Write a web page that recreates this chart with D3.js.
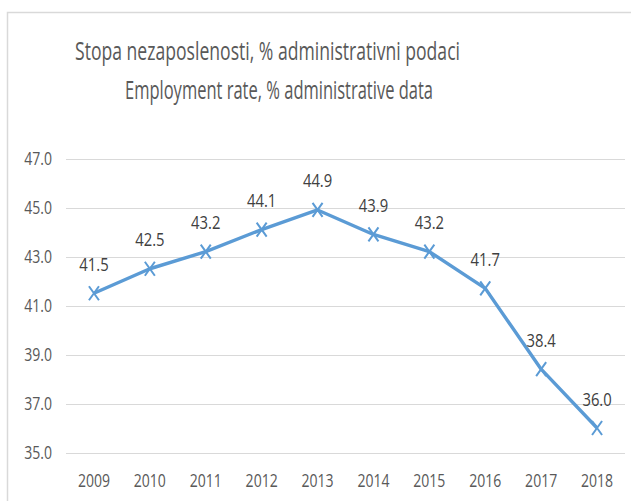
<!DOCTYPE html>
<html><head><meta charset="utf-8">
<script src="https://cdn.jsdelivr.net/npm/d3@7"></script>
<style>body{margin:0;background:#fff}svg{display:block}</style>
</head><body>
<script>
const years = ["2009","2010","2011","2012","2013","2014","2015","2016","2017","2018"];
const values = [41.5,42.5,43.2,44.1,44.9,43.9,43.2,41.7,38.4,36.0];
const yTicks = [35,37,39,41,43,45,47];
const titleLines = ["Stopa nezaposlenosti, % administrativni podaci","Employment rate, % administrative data"];

const W=631,H=501;
const font = "'Open Sans',sans-serif";
const svg = d3.select("body").append("svg").attr("width",W).attr("height",H);
svg.append("rect").attr("width",W).attr("height",H).attr("fill","#fff");
svg.append("path").attr("d","M7.5,"+H+"V12.5H"+W).attr("fill","none").attr("stroke","#d9d9d9").attr("stroke-width",1.5);

const x = d3.scaleBand().domain(years).range([66,625]);
const y = d3.scaleLinear().domain([35,47]).range([452.5,158.5]);
const SX = 0.78;

function label(g, px, py, t, anchor, size, fill){
  return g.append("text").attr("transform",`translate(${px},${py}) scale(${SX},1)`)
    .attr("text-anchor",anchor).attr("font-family",font).attr("font-size",size).attr("fill",fill).text(t);
}

const tl = [[385,60],[308,98.5]];
const tcx = [267.5,279];
titleLines.forEach((t,i)=>{
  svg.append("text").attr("x",tcx[i]).attr("y",tl[i][1]).attr("text-anchor","middle")
    .attr("font-family",font).attr("font-size",25).attr("fill","#595959")
    .attr("textLength",tl[i][0]).attr("lengthAdjust","spacingAndGlyphs").text(t);
});

svg.append("g").selectAll("line").data(yTicks).join("line")
  .attr("x1",66).attr("x2",625).attr("y1",d=>Math.round(y(d))+0.5).attr("y2",d=>Math.round(y(d))+0.5)
  .attr("stroke","#d9d9d9").attr("stroke-width",1);

const gy = svg.append("g");
yTicks.forEach(d=>label(gy, 52, y(d)+6.5, d3.format(".1f")(d), "end", 18, "#595959"));

const cx = d=>x(d)+x.bandwidth()/2;
const gx = svg.append("g");
years.forEach(d=>label(gx, cx(d), 487, d, "middle", 18, "#595959"));

const line = d3.line().x((d,i)=>cx(years[i])).y(d=>y(d));
svg.append("path").datum(values).attr("d",line).attr("fill","none").attr("stroke","#5B9BD5").attr("stroke-width",3.4).attr("stroke-linejoin","round");

const sx=5, sy=7;
svg.append("g").selectAll("path").data(values).join("path")
  .attr("d",(d,i)=>{const px=cx(years[i]),py=y(d);return `M${px-sx},${py-sy}L${px+sx},${py+sy}M${px-sx},${py+sy}L${px+sx},${py-sy}`;})
  .attr("stroke","#5B9BD5").attr("stroke-width",2);

const gl = svg.append("g");
values.forEach((d,i)=>label(gl, cx(years[i]), y(d)-22.5, d.toFixed(1), "middle", 19, "#404040"));
</script>
</body></html>
